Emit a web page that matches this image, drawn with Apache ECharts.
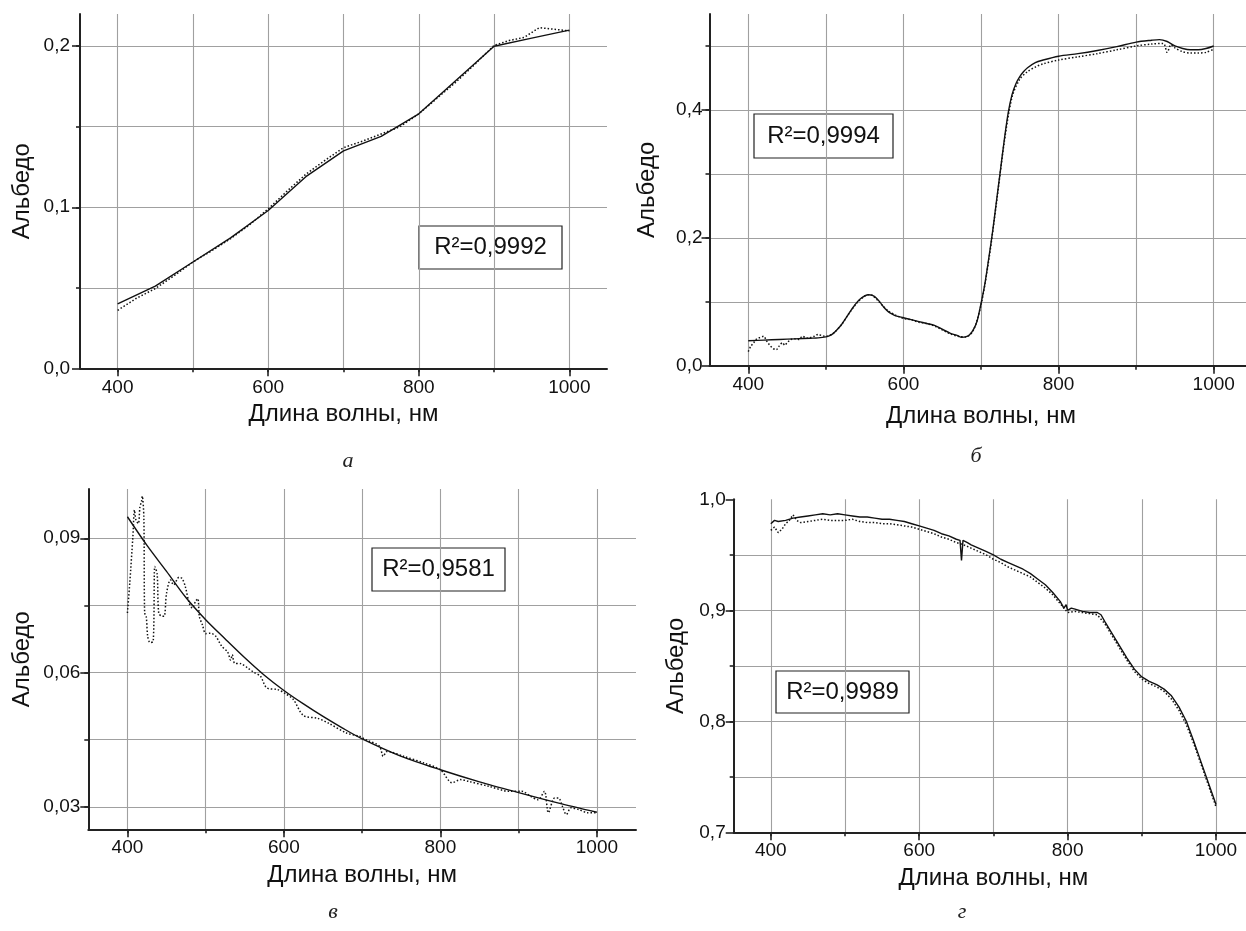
<!DOCTYPE html>
<html><head><meta charset="utf-8">
<script src="https://cdn.jsdelivr.net/npm/echarts@6/dist/echarts.min.js"></script>
<style>html,body{margin:0;padding:0;background:#fff}#c{width:1246px;height:931px}</style>
</head><body><div id="c"></div><script>
// ---------- DATA ----------
// Panel а
const aSolidX = [400,450,500,550,600,650,700,750,800,850,900,950,1000];
const aSolidY = [0.040,0.051,0.066,0.081,0.098,0.119,0.135,0.144,0.158,0.179,0.200,0.205,0.210];
const aDotX = [400,425,450,475,500,525,550,575,600,625,650,675,700,725,750,775,800,825,850,875,900,920,940,960,980,1000];
const aDotY = [0.036,0.0435,0.0495,0.0575,0.066,0.073,0.0805,0.089,0.099,0.110,0.1205,0.129,0.137,0.141,0.1455,0.150,0.158,0.168,0.178,0.189,0.2005,0.2035,0.2055,0.2115,0.2105,0.2095];
// Panel б
const bSolidX = [400,420,440,460,480,490,500,505,510,515,520,525,530,535,540,545,550,555,560,565,570,575,580,585,590,600,610,620,630,640,650,660,670,675,680,685,690,695,700,705,710,715,720,725,730,735,740,745,750,755,760,770,780,800,825,850,875,900,920,930,940,950,960,970,980,990,1000];
const bSolidY = [0.039,0.040,0.041,0.042,0.043,0.0435,0.045,0.047,0.051,0.057,0.064,0.073,0.082,0.091,0.099,0.105,0.109,0.111,0.110,0.106,0.099,0.091,0.085,0.081,0.078,0.075,0.072,0.069,0.066,0.063,0.057,0.051,0.047,0.0445,0.045,0.048,0.056,0.070,0.097,0.128,0.168,0.210,0.258,0.305,0.353,0.395,0.424,0.441,0.452,0.460,0.466,0.474,0.478,0.484,0.488,0.493,0.499,0.506,0.509,0.510,0.507,0.500,0.496,0.494,0.494,0.496,0.500];
const bDotX = [400,403,407,410,415,420,423,427,432,436,440,444,447,450,455,460,465,470,475,480,485,490,495,500,510,520,530,540,550,555,560,570,580,590,600,610,620,630,640,650,660,670,680,690,700,710,720,730,740,750,760,770,780,800,825,850,875,900,920,935,940,945,950,960,970,980,990,1000];
const bDotY = [0.022,0.030,0.036,0.041,0.044,0.046,0.040,0.033,0.027,0.025,0.031,0.036,0.032,0.036,0.041,0.042,0.041,0.046,0.043,0.044,0.046,0.049,0.047,0.046,0.051,0.064,0.082,0.098,0.109,0.111,0.110,0.098,0.086,0.079,0.074,0.072,0.068,0.066,0.062,0.056,0.050,0.046,0.045,0.055,0.095,0.165,0.255,0.350,0.420,0.448,0.460,0.467,0.472,0.478,0.483,0.488,0.494,0.500,0.503,0.504,0.490,0.502,0.497,0.491,0.489,0.489,0.490,0.495];
// Panel в
const cSolidX = [400,425,450,475,500,525,550,575,600,625,650,675,700,750,800,850,900,950,1000];
const cSolidY = [0.0948,0.0884,0.0826,0.0767,0.0718,0.0675,0.0633,0.0594,0.0560,0.0530,0.0502,0.0476,0.0452,0.0413,0.0383,0.0356,0.0332,0.0309,0.0288];
const cDotX = [400,403,407,409,411,414,416,418,419,421,422,424,426,429,433,435,438,440,444,447,450,455,459,466,470,474,479,483,487,490,492,496,500,506,513,517,521,528,532,534,537,545,554,562,570,578,592,602,612,625,643,657,680,696,706,722,727,732,753,779,800,815,826,836,862,888,904,915,925,933,938,946,951,956,961,967,977,988,1000];
const cDotY = [0.0733,0.080,0.0904,0.0963,0.094,0.0933,0.097,0.0982,0.0994,0.0947,0.0733,0.0726,0.068,0.0667,0.067,0.0837,0.082,0.0733,0.0726,0.0726,0.0777,0.0807,0.0796,0.0813,0.081,0.0792,0.0755,0.0744,0.0759,0.0765,0.0725,0.0706,0.0687,0.0688,0.0681,0.0669,0.0658,0.0646,0.0628,0.064,0.0621,0.062,0.061,0.060,0.0592,0.0566,0.0562,0.0553,0.054,0.0504,0.0498,0.0487,0.0465,0.0458,0.0449,0.0436,0.0413,0.0424,0.0413,0.0398,0.0383,0.0354,0.0361,0.0357,0.0346,0.0335,0.0335,0.0324,0.0316,0.0335,0.0287,0.032,0.032,0.0301,0.0283,0.0298,0.0294,0.0287,0.0287];
// Panel г
const dSolidX = [400,405,410,420,430,440,450,460,470,480,490,500,510,520,530,540,550,560,570,580,590,600,610,620,630,640,650,655,657,659,665,670,680,690,700,710,720,730,740,750,760,770,780,790,795,798,800,805,810,820,830,840,845,850,860,870,880,890,900,910,920,930,940,950,960,970,980,990,1000];
const dSolidY = [0.978,0.981,0.980,0.981,0.983,0.984,0.985,0.986,0.987,0.986,0.987,0.986,0.985,0.984,0.984,0.983,0.982,0.982,0.981,0.980,0.978,0.976,0.974,0.972,0.969,0.967,0.964,0.963,0.945,0.963,0.961,0.959,0.956,0.953,0.950,0.946,0.943,0.940,0.937,0.933,0.928,0.923,0.916,0.908,0.902,0.905,0.900,0.902,0.901,0.899,0.898,0.898,0.896,0.890,0.879,0.868,0.857,0.847,0.840,0.836,0.833,0.829,0.823,0.813,0.800,0.782,0.763,0.744,0.725];
const dDotX = [400,405,410,415,420,425,430,435,440,450,460,470,480,490,500,510,520,530,540,550,560,570,580,590,600,610,620,630,640,650,660,670,680,690,700,710,720,730,740,750,760,770,780,790,800,810,820,830,840,850,860,870,880,890,900,910,920,930,940,950,960,970,980,990,1000];
const dDotY = [0.972,0.975,0.970,0.973,0.978,0.981,0.986,0.981,0.979,0.980,0.981,0.982,0.981,0.981,0.981,0.982,0.980,0.979,0.979,0.978,0.978,0.977,0.976,0.975,0.973,0.971,0.969,0.966,0.964,0.961,0.959,0.956,0.953,0.950,0.946,0.943,0.939,0.936,0.933,0.930,0.925,0.920,0.914,0.906,0.898,0.899,0.898,0.897,0.896,0.888,0.877,0.866,0.855,0.845,0.838,0.834,0.831,0.827,0.820,0.810,0.797,0.780,0.761,0.742,0.723];

// Axis ticks / labels
const xGridTicks = [400,500,600,700,800,900,1000];
const xLabelTicks = [400,600,800,1000];
const aYGrid = [0.05,0.1,0.15,0.2], aYLabels = [0,0.1,0.2];
const bYGrid = [0.1,0.2,0.3,0.4,0.5], bYLabels = [0,0.2,0.4];
const cYGrid = [0.03,0.045,0.06,0.075,0.09], cYLabels = [0.03,0.06,0.09];
const dYGrid = [0.75,0.8,0.85,0.9,0.95], dYLabels = [0.7,0.8,0.9,1.0];
const r2Texts = ['R²=0,9992','R²=0,9994','R²=0,9581','R²=0,9989'];
const captions = ['а','б','в','г'];
const xTitle = 'Длина волны, нм';
const yTitle = 'Альбедо';

// ---------- BUILD ----------
const FONT = '"Liberation Sans", Arial, sans-serif';
const INK = '#111';
const panels = [
  {grid:{left:80,top:14,width:527,height:354.3}, ymin:0, ymax:0.22, yGrid:aYGrid, yLab:aYLabels, dec:1,
   yGap:46, yMargin:10, xGap:34, xMargin:10, solid:[aSolidX,aSolidY], dot:[aDotX,aDotY], smooth:false},
  {grid:{left:709.5,top:14,width:543,height:351.7}, ymin:0, ymax:0.55, yGrid:bYGrid, yLab:bYLabels, dec:1,
   yGap:50, yMargin:7, xGap:39, xMargin:10, solid:[bSolidX,bSolidY], dot:[bDotX,bDotY], smooth:0.3},
  {grid:{left:88.3,top:489,width:547.7,height:340.3}, ymin:0.025, ymax:0.101, yGrid:cYGrid, yLab:cYLabels, dec:2,
   yGap:54, yMargin:8, xGap:34, xMargin:9, solid:[cSolidX,cSolidY], dot:[cDotX,cDotY], smooth:0.3},
  {grid:{left:733.7,top:499.3,width:519.4,height:333}, ymin:0.7, ymax:1.0, yGrid:dYGrid, yLab:dYLabels, dec:1,
   yGap:45, yMargin:8, xGap:34, xMargin:9, solid:[dSolidX,dSolidY], dot:[dDotX,dDotY], smooth:false}
];
const grids=[], xAxes=[], yAxes=[], series=[];
const tickStyle = {color:'#222', width:1.6};
const splitStyle = {color:'#a0a0a0', width:1.1};
const labelColor = '#111';
panels.forEach((p,g)=>{
  grids.push(Object.assign({outerBoundsMode:'none', containLabel:false}, p.grid));
  xAxes.push({gridIndex:g, type:'value', min:350, max:1050, position:'bottom',
    axisLine:{show:true,onZero:false,lineStyle:{color:'#222',width:2}},
    axisTick:{show:true,customValues:xGridTicks,length:4,lineStyle:tickStyle},
    axisLabel:{customValues:xLabelTicks,fontSize:19,color:labelColor,margin:p.xMargin,fontFamily:FONT,
      formatter:(v)=>String(Math.round(v))},
    splitLine:{show:true,lineStyle:splitStyle},
    name:xTitle, nameLocation:'middle', nameGap:p.xGap, nameMoveOverlap:false,
    nameTextStyle:{fontSize:24,color:labelColor,fontFamily:FONT}});
  xAxes.push({gridIndex:g, type:'value', min:350, max:1050, position:'bottom',
    axisLine:{show:false}, axisTick:{show:true,customValues:xLabelTicks,length:8,lineStyle:tickStyle},
    axisLabel:{show:false}, splitLine:{show:false}});
  yAxes.push({gridIndex:g, type:'value', min:p.ymin, max:p.ymax, position:'left',
    axisLine:{show:true,onZero:false,lineStyle:{color:'#222',width:2}},
    axisTick:{show:true,customValues:p.yGrid,length:4,lineStyle:tickStyle},
    axisLabel:{customValues:p.yLab,fontSize:19,color:labelColor,margin:p.yMargin,fontFamily:FONT,
      formatter:(v)=>Number(v).toFixed(p.dec).replace('.',',')},
    splitLine:{show:true,lineStyle:splitStyle},
    name:yTitle, nameLocation:'middle', nameGap:p.yGap, nameMoveOverlap:false,
    nameTextStyle:{fontSize:24,color:labelColor,fontFamily:FONT}});
  yAxes.push({gridIndex:g, type:'value', min:p.ymin, max:p.ymax, position:'left',
    axisLine:{show:false}, axisTick:{show:true,customValues:p.yLab,length:8,lineStyle:tickStyle},
    axisLabel:{show:false}, splitLine:{show:false}});
  series.push({type:'line', xAxisIndex:2*g, yAxisIndex:2*g, showSymbol:false, symbol:'none', smooth:p.smooth,
    data:p.dot[0].map((x,i)=>[x,p.dot[1][i]]),
    lineStyle:{color:INK,width:1.5,type:[1.5,2]}, z:3});
  series.push({type:'line', xAxisIndex:2*g, yAxisIndex:2*g, showSymbol:false, symbol:'none', smooth:p.smooth,
    data:p.solid[0].map((x,i)=>[x,p.solid[1][i]]),
    lineStyle:{color:INK,width:1.4}, z:4});
});
const boxes = [
  {x:419,y:226,w:143,h:43},
  {x:754,y:114,w:139,h:44},
  {x:372,y:548,w:133,h:43},
  {x:776,y:671,w:133,h:42}
];
const capPos = [[348,461],[976,456],[333,912],[962,912]];
const graphic = [];
boxes.forEach((b,i)=>{
  graphic.push({type:'group', x:b.x, y:b.y, z:100, children:[
    {type:'rect', shape:{x:0,y:0,width:b.w,height:b.h}, style:{fill:'#fff',stroke:'#222',lineWidth:1.2}},
    {type:'text', x:b.w/2, y:b.h/2, style:{text:r2Texts[i], font:'24px '+FONT, fill:'#111', textAlign:'center', textVerticalAlign:'middle'}}
  ]});
});
capPos.forEach((c,i)=>{
  graphic.push({type:'text', x:c[0], y:c[1], style:{text:captions[i], font:'italic 22px "Liberation Serif", "Times New Roman", serif', fill:'#222', textAlign:'center', textVerticalAlign:'middle'}});
});
const chart = echarts.init(document.getElementById('c'), null, {renderer:'canvas'});
chart.setOption({animation:false, backgroundColor:'#fff', grid:grids, xAxis:xAxes, yAxis:yAxes, series:series, graphic:graphic});
</script></body></html>
